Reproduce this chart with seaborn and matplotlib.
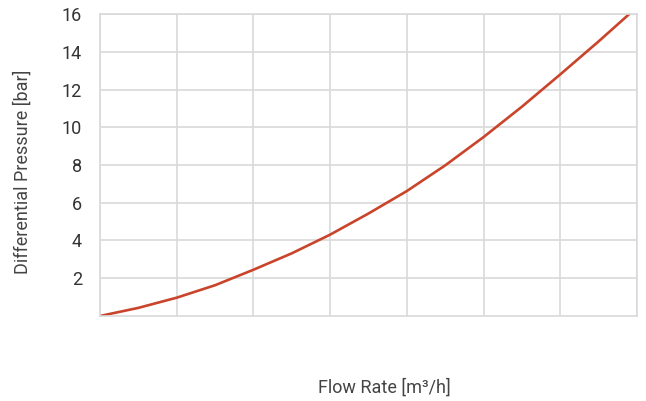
import numpy as np
import pandas as pd
import matplotlib
matplotlib.use("Agg")
import matplotlib.pyplot as plt
import seaborn as sns

# values
flow_rate = [0.0, 0.5, 1.0, 1.5, 2.0, 2.5, 3.0, 3.5, 4.0, 4.5, 5.0, 5.5, 6.0, 6.5, 6.9]
diff_pressure = [0.0, 0.43, 0.97, 1.63, 2.45, 3.32, 4.31, 5.43, 6.62, 7.98, 9.48, 11.09, 12.8, 14.55, 16.0]
y_ticks = [2, 4, 6, 8, 10, 12, 14, 16]
x_ticks = [0, 1, 2, 3, 4, 5, 6, 7]

df = pd.DataFrame({"flow": flow_rate, "dp": diff_pressure})

sns.set_theme(style="whitegrid")
plt.rcParams["font.family"] = ["Roboto", "DejaVu Sans"]

fig, ax = plt.subplots(figsize=(6.46, 4.01), dpi=100)
fig.subplots_adjust(left=0.1548, right=0.986, top=0.965, bottom=0.212)

sns.lineplot(data=df, x="flow", y="dp", ax=ax, color="#c9442a", linewidth=1.9)

ax.set_xlim(0, 7)
ax.set_ylim(0, 16)
ax.set_xticks(x_ticks)
ax.set_xticklabels([])
ax.set_yticks(y_ticks)
ax.set_yticklabels([str(t) for t in y_ticks], fontsize=13, color="#333333")
ax.tick_params(axis="both", length=0, pad=13)
ax.grid(True, color="#d9d9d9", linewidth=1.2)
for s in ax.spines.values():
    s.set_color("#d9d9d9")
    s.set_linewidth(1.2)

ax.set_xlabel("Flow Rate [m³/h]", fontsize=13, color="#444444")
ax.set_ylabel("Differential Pressure [bar]", fontsize=13, color="#444444")
ax.xaxis.set_label_coords(0.53, -0.205)
ax.yaxis.set_label_coords(-0.127, 0.477)

plt.savefig("out.png", dpi=100)
